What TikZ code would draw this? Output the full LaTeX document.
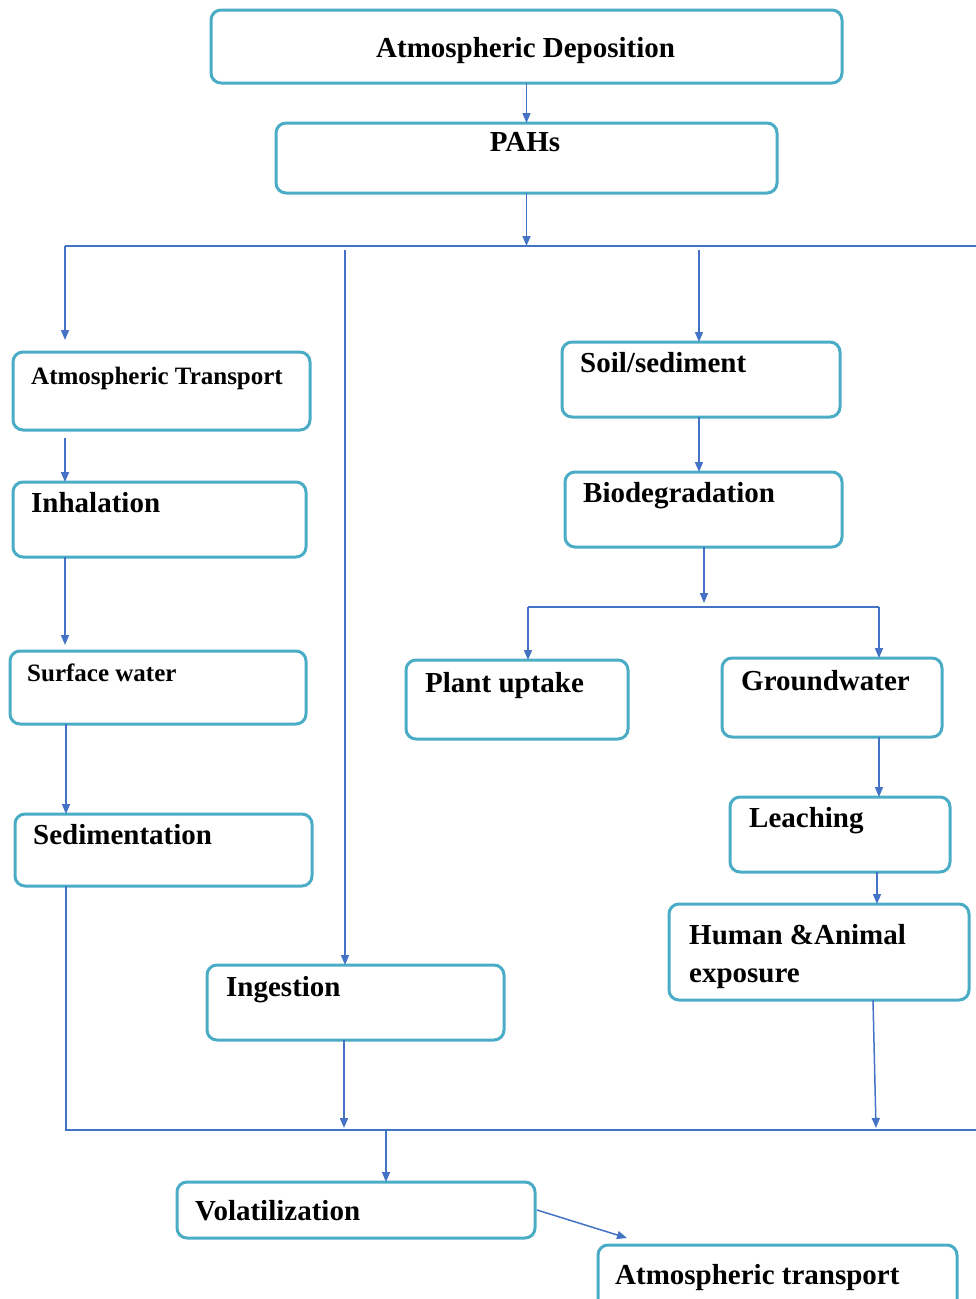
\documentclass[tikz,border=0pt]{standalone}
\usepackage{fontspec}
\setmainfont{Liberation Serif}
\usetikzlibrary{arrows.meta,fit}
\definecolor{boxc}{RGB}{75,172,198}
\definecolor{arrc}{RGB}{68,114,196}
\begin{document}
\begin{tikzpicture}[x=1pt,y=-1pt,
  box/.style={draw=boxc, line width=3pt, rounded corners=10pt, inner sep=0pt, outer sep=0pt},
  conn/.style={draw=arrc, line width=1.5pt},
  arr/.style={conn, -{Triangle[length=10pt,width=8pt]}},
  lbl/.style={anchor=base west, inner sep=0pt, font=\bfseries\fontsize{29}{34}\selectfont},
  slbl/.style={anchor=base west, inner sep=0pt, font=\bfseries\fontsize{25}{30}\selectfont}]
\useasboundingbox (0,0) rectangle (976,1299);
% boxes
\node[box, fit={(211,10) (842,83)}] (AD) {};
\node[box, fit={(276,123) (777,193)}] (PAH) {};
\node[box, fit={(13,352) (310,430)}] (AT) {};
\node[box, fit={(13,482) (306,557)}] (INH) {};
\node[box, fit={(10,651) (306,724)}] (SW) {};
\node[box, fit={(15,814) (312,886)}] (SED) {};
\node[box, fit={(562,342) (840,417)}] (SOIL) {};
\node[box, fit={(565,472) (842,547)}] (BIO) {};
\node[box, fit={(406,660) (628,739)}] (PU) {};
\node[box, fit={(722,658) (942,737)}] (GW) {};
\node[box, fit={(730,797) (950,872)}] (LE) {};
\node[box, fit={(669,904) (969,1000)}] (HA) {};
\node[box, fit={(207,965) (504,1040)}] (ING) {};
\node[box, fit={(177,1182) (535,1238)}] (VOL) {};
\node[box, fit={(598,1245) (957,1312)}] (ATR) {};
% labels
\node[lbl] (tAD) at (376,57) {Atmospheric Deposition};
\node[lbl, anchor=base] (tPAH) at (525,151) {PAHs};
\node[slbl] (tAT) at (31,384) {Atmospheric Transport};
\node[lbl] (tINH) at (31,512) {Inhalation};
\node[slbl] (tSW) at (27,681) {Surface water};
\node[lbl] (tSED) at (33,844) {Sedimentation};
\node[lbl] (tSOIL) at (580,372) {Soil/sediment};
\node[lbl] (tBIO) at (583,502) {Biodegradation};
\node[lbl] (tPU) at (425,692) {Plant uptake};
\node[lbl] (tGW) at (741,690) {Groundwater};
\node[lbl] (tLE) at (749,827) {Leaching};
\node[lbl] (tHA) at (689,944) {Human \&Animal};
\node[lbl] (tHA2) at (689,982) {exposure};
\node[lbl] (tING) at (226,996) {Ingestion};
\node[lbl] (tVOL) at (195,1220) {Volatilization};
\node[lbl] (tATR) at (615,1284) {Atmospheric transport};
% coordinates
\coordinate (topL) at (65,246);
\coordinate (topR) at (976,246);
\coordinate (atEnd) at (65,340);
\coordinate (ingTop) at (345,250);
\coordinate (soilTop) at (699,250);
\coordinate (atBot) at (65,438);
\coordinate (bioJ) at (704,607);
\coordinate (puJ) at (528,607);
\coordinate (gwJ) at (879,607);
\coordinate (botL) at (66,1130);
\coordinate (botR) at (976,1130);
\coordinate (volTop) at (386,1130);
\coordinate (haEnd) at (876,1128);
\coordinate (ingEnd) at (344,1128);
\coordinate (volOut) at (537,1210);
\coordinate (atrIn) at (627,1238);
% connectors
\draw[arr] (AD.south) -- (PAH.north);
\draw[arr] (PAH.south) -- (PAH.south |- topL);
\draw[conn] (topL) -- (topR);
\draw[arr] (topL) -- (atEnd);
\draw[arr] (ingTop) -- (ingTop |- ING.north);
\draw[arr] (soilTop) -- (soilTop |- SOIL.north);
\draw[arr] (atBot) -- (atBot |- INH.north);
\draw[arr] (INH.south -| atBot) -- ([yshift=6pt]SW.north -| atBot);
\draw[arr] (SW.south -| botL) -- (SED.north -| botL);
\draw[conn] (SED.south -| botL) -- (botL) -- (botR);
\draw[arr] (SOIL.south -| soilTop) -- (BIO.north -| soilTop);
\draw[arr] (BIO.south -| bioJ) -- ([yshift=4pt]bioJ);
\draw[conn] (puJ) -- (gwJ);
\draw[arr] (puJ) -- (PU.north -| puJ);
\draw[arr] (gwJ) -- (GW.north -| gwJ);
\draw[arr] (GW.south -| gwJ) -- (LE.north -| gwJ);
\draw[arr] ([xshift=-2pt]LE.south -| gwJ) -- ([xshift=-2pt]HA.north -| gwJ);
\draw[arr] (HA.south -| 873,0) -- (haEnd);
\draw[arr] (ING.south -| ingEnd) -- (ingEnd);
\draw[arr] (volTop) -- (VOL.north -| volTop);
\draw[arr] (volOut) -- (atrIn);
\end{tikzpicture}
\end{document}
